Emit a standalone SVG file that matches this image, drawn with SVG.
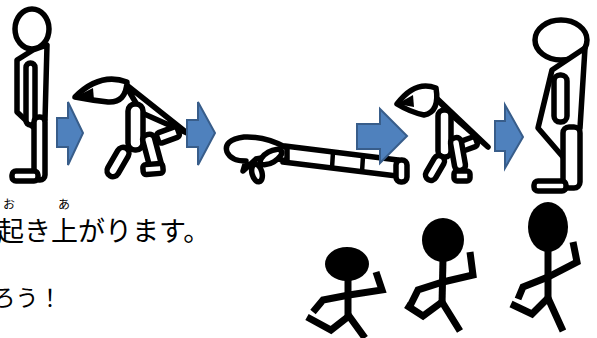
<svg xmlns="http://www.w3.org/2000/svg" width="597" height="338" viewBox="0 0 597 338">
  <style>
    .fig { fill: #ffffff; stroke: #000000; stroke-width: 5.5; stroke-linejoin: round; }
    .ink { fill: #000000; stroke: none; }
    .arrow { fill: #4f81bd; stroke: #385d8a; stroke-width: 2; stroke-linejoin: miter; }
    .run { fill: none; stroke: #000000; stroke-width: 7; stroke-linecap: butt; stroke-linejoin: miter; }
    .txt { font-family: "Noto Sans CJK JP", "Noto Sans", sans-serif; fill: #000000; }
  </style>

  <rect width="597" height="338" fill="#ffffff"/>

  <!-- standing figure -->
  <g id="stand-start">
    <ellipse class="fig" cx="32" cy="29" rx="17" ry="20"/>
    <polygon class="fig" points="17,60 33,50 47,45 45,120 33,127 17,112"/>
    <rect class="fig" x="26" y="63" width="9" height="62" rx="4.5"/>
    <rect class="fig" x="34" y="117" width="11" height="63" rx="5"/>
    <rect class="fig" x="12" y="171" width="26" height="10" rx="4"/>
  </g>

  <!-- bending down -->
  <g id="bend-down">
    <polygon class="fig" points="124,83 187,133 142,113"/>
    <path class="fig" d="M75,97 Q100,72 127,82 Q126,103 108,102 Q90,100 75,97 Z"/>
    <polygon class="ink" points="75,97 93,88 94,100"/>
    <rect class="fig" x="128" y="104" width="15" height="46" rx="7"/>
    <rect class="fig" x="157" y="129.5" width="22" height="11" rx="3" transform="rotate(-20 168 135)"/>
    <rect class="fig" x="146" y="134" width="12" height="36" rx="5" transform="rotate(-15 152 152)"/>
    <rect class="fig" x="143" y="164" width="20" height="10" rx="3" transform="rotate(-5 153 169)"/>
    <rect class="fig" x="112" y="146" width="12" height="32" rx="6" transform="rotate(30 118 162)"/>
  </g>

  <!-- lying down -->
  <g id="lying">
    <polygon class="fig" points="285,146 398,160 397,176 283,162"/>
    <line x1="333" y1="152" x2="332" y2="168" stroke="#000" stroke-width="4.5"/>
    <line x1="363" y1="156" x2="362" y2="172" stroke="#000" stroke-width="4.5"/>
    <path class="fig" d="M287,148 Q266,136 244,137 Q223,140 227,152 Q231,161 246,161 L243,171 L256,159 Q266,156 287,161 Z"/>
    <rect class="fig" x="396" y="160" width="11" height="22" rx="5"/>
    <ellipse class="fig" cx="271" cy="157" rx="12" ry="5.5" transform="rotate(-30 271 157)"/>
    <ellipse class="fig" cx="257" cy="173" rx="9" ry="5" transform="rotate(75 257 173)"/>
  </g>

  <!-- getting up, bent -->
  <g id="bend-up">
    <polygon class="fig" points="428,90 488,147 455,118"/>
    <path class="fig" d="M397,104 Q415,80 436,88 Q440,112 424,115 Q410,112 397,104 Z"/>
    <polygon class="ink" points="397,104 413,95 414,107"/>
    <rect class="fig" x="438" y="110" width="13" height="47" rx="6"/>
    <rect class="fig" x="459" y="139" width="18" height="10" rx="3" transform="rotate(-20 468 144)"/>
    <rect class="fig" x="452.5" y="137.5" width="11" height="33" rx="5" transform="rotate(-10 458 154)"/>
    <rect class="fig" x="454" y="171" width="16" height="10" rx="3"/>
    <rect class="fig" x="429.5" y="154.5" width="11" height="27" rx="5.5" transform="rotate(30 435 168)"/>
  </g>

  <!-- standing again -->
  <g id="stand-end">
    <ellipse class="fig" cx="561" cy="40" rx="26" ry="20"/>
    <polygon class="fig" points="552,70 585,48 580,128 563,157 538,128"/>
    <rect class="fig" x="554" y="75" width="13" height="47" rx="6"/>
    <rect class="fig" x="563" y="127" width="17" height="61" rx="6"/>
    <rect class="fig" x="534" y="181" width="32" height="10" rx="4"/>
  </g>

  <!-- step arrows -->
  <g id="connectors">
    <polygon class="arrow" points="57,118 68,118 68,102 83,133 68,165 68,147 57,147"/>
    <polygon class="arrow" points="187,120 198,120 198,102 215,133 198,165 198,147 187,147"/>
    <polygon class="arrow" points="357,124 380,124 380,109 407,136 380,163 380,149 357,149"/>
    <polygon class="arrow" points="495,121 505,121 505,105 523,137 505,168 505,151 495,151"/>
  </g>

  <!-- runners -->
  <g id="runner-1">
    <ellipse class="ink" cx="347" cy="264" rx="22" ry="17"/>
    <polyline class="run" points="348,278 348,318"/>
    <polyline class="run" points="313,312 323,300 349,295 382,290 376,272"/>
    <polyline class="run" points="307,317 331,330 349,316 365,338"/>
  </g>
  <g id="runner-2">
    <ellipse class="ink" cx="443" cy="240" rx="21" ry="22"/>
    <polyline class="run" points="443,258 442,305"/>
    <polyline class="run" points="410,306 418,290 443,282 473,275 470,252"/>
    <polyline class="run" points="406,305 423,316 442,302 460,331"/>
  </g>
  <g id="runner-3">
    <ellipse class="ink" cx="548" cy="227" rx="20" ry="25"/>
    <polyline class="run" points="548,248 548,299"/>
    <polyline class="run" points="518,299 523,287 548,277 577,262 573,242"/>
    <polyline class="run" points="511,304 532,314 548,298 563,331"/>
  </g>

  <!-- caption with furigana -->
  <g id="caption">
    <text class="txt" x="9" y="209" font-size="12" text-anchor="middle">お</text>
    <text class="txt" x="64" y="209" font-size="12" text-anchor="middle">あ</text>
    <text class="txt" x="-3" y="241" font-size="27">起き上がります。</text>
    <text class="txt" x="-7.5" y="306" font-size="23">ろう！</text>
  </g>
</svg>
